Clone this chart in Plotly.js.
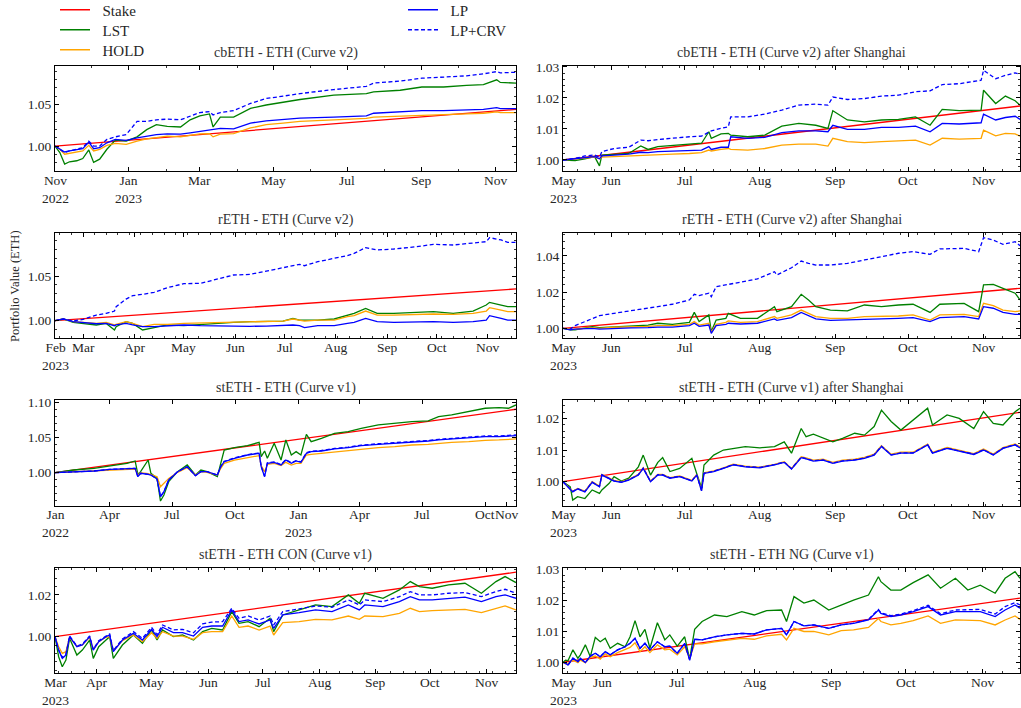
<!DOCTYPE html>
<html><head><meta charset="utf-8">
<script src="https://cdn.plot.ly/plotly-3.0.1.min.js"></script>
<style>html,body{margin:0;padding:0;background:#fff}#chart{width:1021px;height:708px}</style>
</head><body><div id="chart"></div>
<script>
// ---------- DATA ----------
const seriesNames = ['Stake','LST','HOLD','LP','LP+CRV'];
const panelTitles = ['cbETH - ETH (Curve v2)','cbETH - ETH (Curve v2) after Shanghai','rETH - ETH (Curve v2)','rETH - ETH (Curve v2) after Shanghai','stETH - ETH (Curve v1)','stETH - ETH (Curve v1) after Shanghai','stETH - ETH CON (Curve v1)','stETH - ETH NG (Curve v1)'];
const yAxisTitle = 'Portfolio Value (ETH)';

// Panel 1: cbETH - ETH (Curve v2)
const p1Dates = ['2022-11-01','2022-11-05','2022-11-09','2022-11-13','2022-11-19','2022-11-24','2022-11-29','2022-12-03','2022-12-08','2022-12-14','2022-12-21','2022-12-30','2023-01-08','2023-01-16','2023-01-24','2023-02-02','2023-02-13','2023-02-21','2023-03-01','2023-03-09','2023-03-12','2023-03-18','2023-03-29','2023-04-12','2023-04-25','2023-05-09','2023-05-23','2023-06-20','2023-07-17','2023-07-23','2023-08-14','2023-09-01','2023-09-19','2023-10-08','2023-10-22','2023-11-02','2023-11-05','2023-11-18'];
const p1LST = [1.0000,0.9921,0.9783,0.9811,0.9823,0.9850,0.9953,0.9803,0.9842,0.9961,1.0071,1.0059,1.0110,1.0197,1.0256,1.0236,1.0229,1.0315,1.0362,1.0386,1.0229,1.0347,1.0347,1.0453,1.0493,1.0528,1.0559,1.0611,1.0630,1.0650,1.0670,1.0709,1.0709,1.0729,1.0737,1.0796,1.0764,1.0756];
const p1LPCRV = [1.0000,0.9961,0.9921,0.9941,0.9961,0.9980,1.0059,1.0000,1.0000,1.0079,1.0110,1.0138,1.0296,1.0296,1.0315,1.0323,1.0315,1.0362,1.0402,1.0414,1.0374,1.0402,1.0426,1.0512,1.0571,1.0599,1.0630,1.0678,1.0717,1.0756,1.0780,1.0815,1.0827,1.0843,1.0867,1.0894,1.0879,1.0886];
const p1LP = [1.0000,0.9968,0.9929,0.9941,0.9953,0.9968,1.0047,0.9968,0.9980,1.0039,1.0079,1.0067,1.0098,1.0118,1.0138,1.0146,1.0142,1.0158,1.0177,1.0189,1.0205,1.0213,1.0205,1.0276,1.0303,1.0315,1.0335,1.0347,1.0362,1.0394,1.0410,1.0426,1.0426,1.0433,1.0441,1.0461,1.0449,1.0449];
const p1HOLD = [1.0000,0.9961,0.9902,0.9913,0.9921,0.9941,1.0008,0.9941,0.9961,1.0008,1.0032,1.0020,1.0059,1.0087,1.0102,1.0118,1.0110,1.0126,1.0146,1.0150,1.0110,1.0142,1.0150,1.0217,1.0256,1.0276,1.0296,1.0315,1.0331,1.0347,1.0362,1.0374,1.0378,1.0386,1.0394,1.0410,1.0402,1.0402];
const p1Stake = [1.0000,1.0440];

// Panel 2: cbETH - ETH (Curve v2) after Shanghai
const p2Dates = ['2023-05-12','2023-05-17','2023-05-21','2023-05-25','2023-05-27','2023-05-28','2023-06-02','2023-06-08','2023-06-13','2023-06-16','2023-06-20','2023-06-26','2023-07-03','2023-07-08','2023-07-11','2023-07-12','2023-07-16','2023-07-19','2023-07-20','2023-07-27','2023-08-03','2023-08-10','2023-08-17','2023-08-24','2023-08-29','2023-08-31','2023-09-06','2023-09-13','2023-09-20','2023-09-27','2023-10-04','2023-10-10','2023-10-15','2023-10-22','2023-10-31','2023-11-01','2023-11-06','2023-11-10','2023-11-14','2023-11-16'];
const p2LPCRV = [1.0000,1.0005,1.0013,1.0016,1.0009,1.0027,1.0037,1.0041,1.0064,1.0062,1.0066,1.0071,1.0075,1.0077,1.0091,1.0094,1.0102,1.0107,1.0139,1.0139,1.0148,1.0161,1.0177,1.0180,1.0177,1.0203,1.0195,1.0198,1.0206,1.0209,1.0220,1.0223,1.0243,1.0246,1.0257,1.0289,1.0262,1.0273,1.0281,1.0276];
const p2LST = [1.0000,0.9998,1.0004,1.0011,0.9981,1.0016,1.0018,1.0021,1.0045,1.0034,1.0043,1.0047,1.0051,1.0054,1.0091,1.0070,1.0084,1.0086,1.0080,1.0075,1.0080,1.0109,1.0118,1.0112,1.0102,1.0159,1.0129,1.0123,1.0129,1.0131,1.0139,1.0112,1.0163,1.0159,1.0161,1.0225,1.0182,1.0206,1.0191,1.0177];
const p2LP = [1.0000,1.0004,1.0009,1.0011,1.0004,1.0013,1.0016,1.0019,1.0025,1.0024,1.0027,1.0028,1.0030,1.0032,1.0043,1.0034,1.0041,1.0041,1.0075,1.0070,1.0073,1.0088,1.0094,1.0094,1.0091,1.0112,1.0099,1.0099,1.0105,1.0105,1.0109,1.0091,1.0118,1.0116,1.0120,1.0148,1.0129,1.0137,1.0141,1.0131];
const p2HOLD = [1.0000,1.0002,1.0006,1.0009,1.0004,1.0009,1.0011,1.0013,1.0016,1.0016,1.0018,1.0019,1.0021,1.0024,1.0032,1.0029,1.0034,1.0037,1.0034,1.0032,1.0037,1.0048,1.0051,1.0051,1.0045,1.0070,1.0059,1.0056,1.0059,1.0061,1.0064,1.0048,1.0070,1.0067,1.0070,1.0096,1.0078,1.0086,1.0084,1.0077];
const p2Stake = [1.0000,1.0174];

// Panel 3: rETH - ETH (Curve v2)
const p3Dates = ['2023-02-12','2023-02-17','2023-02-23','2023-03-01','2023-03-09','2023-03-15','2023-03-20','2023-03-21','2023-03-27','2023-03-31','2023-04-06','2023-04-13','2023-04-21','2023-05-01','2023-05-11','2023-05-21','2023-05-31','2023-06-10','2023-06-20','2023-06-30','2023-07-06','2023-07-10','2023-07-13','2023-07-21','2023-07-31','2023-08-08','2023-08-12','2023-08-19','2023-08-26','2023-09-05','2023-09-19','2023-09-29','2023-10-11','2023-10-23','2023-10-31','2023-11-02','2023-11-09','2023-11-13','2023-11-18'];
const p3LPCRV = [1.0000,1.0019,0.9996,1.0015,1.0063,1.0082,1.0108,1.0157,1.0242,1.0280,1.0295,1.0317,1.0369,1.0414,1.0418,1.0466,1.0511,1.0518,1.0556,1.0593,1.0623,1.0630,1.0615,1.0660,1.0698,1.0727,1.0753,1.0817,1.0791,1.0802,1.0828,1.0854,1.0847,1.0865,1.0884,1.0929,1.0903,1.0877,1.0877];
const p3LST = [1.0000,1.0019,0.9981,0.9970,0.9952,0.9970,0.9896,0.9933,0.9989,0.9970,0.9896,0.9922,0.9952,0.9944,0.9959,0.9970,0.9981,0.9989,0.9989,0.9996,1.0026,1.0007,1.0007,1.0007,1.0019,1.0063,1.0082,1.0138,1.0082,1.0082,1.0093,1.0101,1.0082,1.0108,1.0175,1.0205,1.0175,1.0157,1.0157];
const p3HOLD = [1.0000,1.0019,0.9989,0.9981,0.9970,0.9981,0.9952,0.9959,0.9989,0.9970,0.9933,0.9959,0.9959,0.9970,0.9974,0.9981,0.9989,0.9989,0.9993,0.9996,1.0019,1.0004,0.9996,1.0007,1.0007,1.0045,1.0056,1.0108,1.0063,1.0063,1.0071,1.0075,1.0071,1.0082,1.0108,1.0145,1.0119,1.0101,1.0101];
const p3LP = [1.0000,1.0019,0.9989,0.9981,0.9966,0.9970,0.9944,0.9952,0.9970,0.9952,0.9933,0.9933,0.9944,0.9952,0.9944,0.9940,0.9937,0.9937,0.9940,0.9944,0.9952,0.9944,0.9922,0.9944,0.9944,0.9970,0.9981,1.0026,0.9989,0.9981,0.9989,0.9989,0.9981,0.9989,1.0007,1.0056,1.0026,1.0007,1.0007];
const p3Stake = [1.0000,1.0355];

// Panel 4: rETH - ETH (Curve v2) after Shanghai
const p4Dates = ['2023-05-12','2023-05-15','2023-05-17','2023-05-24','2023-05-27','2023-06-02','2023-06-09','2023-06-16','2023-06-20','2023-06-26','2023-07-03','2023-07-05','2023-07-07','2023-07-11','2023-07-12','2023-07-14','2023-07-18','2023-07-19','2023-07-24','2023-07-31','2023-08-07','2023-08-08','2023-08-14','2023-08-18','2023-08-21','2023-08-24','2023-08-30','2023-09-06','2023-09-13','2023-09-20','2023-09-27','2023-10-03','2023-10-10','2023-10-14','2023-10-24','2023-10-30','2023-11-01','2023-11-05','2023-11-09','2023-11-14','2023-11-16'];
const p4LPCRV = [1.0000,0.9996,1.0015,1.0055,1.0070,1.0083,1.0096,1.0111,1.0120,1.0133,1.0157,1.0188,1.0181,1.0194,1.0175,1.0230,1.0240,1.0243,1.0254,1.0273,1.0313,1.0295,1.0335,1.0372,1.0359,1.0350,1.0350,1.0359,1.0378,1.0396,1.0415,1.0424,1.0409,1.0439,1.0442,1.0424,1.0501,1.0488,1.0464,1.0479,1.0457];
const p4LST = [1.0000,0.9991,0.9991,1.0009,1.0004,1.0009,1.0015,1.0018,1.0028,1.0022,1.0033,1.0088,1.0037,1.0074,0.9982,1.0046,1.0055,1.0083,1.0055,1.0055,1.0120,1.0092,1.0120,1.0188,1.0157,1.0120,1.0101,1.0096,1.0129,1.0120,1.0129,1.0133,1.0088,1.0133,1.0138,1.0092,1.0240,1.0243,1.0221,1.0194,1.0157];
const p4HOLD = [1.0000,0.9996,0.9996,1.0004,1.0000,1.0006,1.0007,1.0011,1.0015,1.0015,1.0022,1.0037,1.0018,1.0028,0.9978,1.0022,1.0033,1.0041,1.0033,1.0037,1.0065,1.0055,1.0074,1.0101,1.0083,1.0065,1.0055,1.0055,1.0065,1.0065,1.0068,1.0074,1.0046,1.0074,1.0077,1.0065,1.0138,1.0125,1.0101,1.0092,1.0096];
const p4LP = [1.0000,0.9991,0.9996,1.0000,0.9996,1.0000,1.0002,1.0004,1.0007,1.0007,1.0015,1.0028,1.0011,1.0018,0.9972,1.0015,1.0022,1.0028,1.0024,1.0028,1.0052,1.0044,1.0059,1.0088,1.0070,1.0052,1.0044,1.0046,1.0052,1.0052,1.0055,1.0059,1.0037,1.0059,1.0065,1.0052,1.0120,1.0111,1.0088,1.0077,1.0077];
const p4Stake = [1.0000,1.0221];

// Panel 5: stETH - ETH (Curve v1)
const p5Dates = ['2022-01-11','2022-02-07','2022-03-09','2022-04-01','2022-04-26','2022-05-08','2022-05-12','2022-05-16','2022-05-27','2022-05-31','2022-06-09','2022-06-14','2022-06-19','2022-06-26','2022-07-09','2022-07-23','2022-08-04','2022-08-12','2022-08-21','2022-09-05','2022-09-10','2022-09-15','2022-09-30','2022-10-19','2022-11-05','2022-11-08','2022-11-13','2022-11-17','2022-11-27','2022-12-07','2022-12-14','2022-12-22','2022-12-29','2023-01-05','2023-01-13','2023-01-20','2023-02-04','2023-02-23','2023-03-15','2023-04-03','2023-04-28','2023-05-22','2023-06-16','2023-07-10','2023-07-25','2023-08-13','2023-09-07','2023-10-01','2023-10-21','2023-11-04','2023-11-15'];
const p5LST = [1.0000,1.0038,1.0062,1.0100,1.0133,1.0166,0.9976,1.0014,1.0180,0.9991,0.9919,0.9597,0.9682,0.9872,1.0014,1.0109,0.9967,1.0038,1.0014,0.9943,1.0133,1.0322,1.0356,1.0384,1.0431,1.0228,1.0308,1.0204,1.0417,1.0180,1.0465,1.0251,1.0299,1.0251,1.0545,1.0441,1.0488,1.0559,1.0583,1.0630,1.0678,1.0702,1.0725,1.0735,1.0796,1.0820,1.0867,1.0915,1.0924,1.0915,1.0962];
const p5LP = [1.0000,1.0014,1.0024,1.0047,1.0052,1.0062,0.9943,0.9991,0.9976,0.9967,0.9910,0.9659,0.9730,0.9896,1.0014,1.0085,0.9957,1.0014,1.0014,0.9967,1.0085,1.0156,1.0204,1.0251,1.0275,1.0085,0.9943,1.0133,1.0147,1.0109,1.0180,1.0133,1.0166,1.0147,1.0275,1.0299,1.0308,1.0337,1.0356,1.0384,1.0403,1.0417,1.0441,1.0450,1.0465,1.0479,1.0488,1.0512,1.0512,1.0521,1.0526];
const p5LPCRV = [1.0000,1.0014,1.0024,1.0047,1.0052,1.0062,0.9943,0.9991,0.9976,0.9967,0.9910,0.9659,0.9730,0.9896,1.0014,1.0085,0.9957,1.0014,1.0014,0.9967,1.0090,1.0160,1.0210,1.0256,1.0280,1.0090,0.9950,1.0140,1.0152,1.0115,1.0186,1.0140,1.0172,1.0154,1.0282,1.0306,1.0315,1.0344,1.0363,1.0391,1.0411,1.0425,1.0449,1.0458,1.0474,1.0488,1.0497,1.0521,1.0522,1.0530,1.0536];
const p5HOLD = [1.0000,1.0014,1.0024,1.0043,1.0047,1.0052,0.9967,1.0000,0.9986,0.9976,0.9943,0.9801,0.9848,0.9919,1.0005,1.0071,0.9967,1.0014,1.0005,0.9967,1.0062,1.0133,1.0180,1.0213,1.0242,1.0100,1.0014,1.0119,1.0133,1.0100,1.0147,1.0109,1.0133,1.0133,1.0251,1.0261,1.0275,1.0299,1.0318,1.0337,1.0356,1.0370,1.0393,1.0403,1.0417,1.0431,1.0441,1.0460,1.0465,1.0474,1.0479];
const p5Stake = [1.0000,1.0901];

// Panel 6: stETH - ETH (Curve v1) after Shanghai
const p6Dates = ['2023-05-12','2023-05-15','2023-05-16','2023-05-18','2023-05-21','2023-05-24','2023-05-27','2023-05-28','2023-05-31','2023-06-02','2023-06-05','2023-06-08','2023-06-12','2023-06-14','2023-06-17','2023-06-20','2023-06-22','2023-06-25','2023-06-29','2023-07-04','2023-07-06','2023-07-08','2023-07-09','2023-07-13','2023-07-17','2023-07-21','2023-07-26','2023-08-01','2023-08-07','2023-08-11','2023-08-14','2023-08-18','2023-08-20','2023-08-23','2023-08-27','2023-08-31','2023-09-04','2023-09-09','2023-09-13','2023-09-17','2023-09-20','2023-09-24','2023-09-28','2023-10-03','2023-10-09','2023-10-11','2023-10-17','2023-10-22','2023-10-28','2023-11-01','2023-11-05','2023-11-09','2023-11-14','2023-11-16'];
const p6LST = [1.0000,0.9984,0.9942,0.9953,0.9947,0.9974,0.9963,0.9974,0.9995,1.0016,1.0002,1.0011,1.0047,1.0084,1.0021,1.0061,1.0076,1.0032,1.0042,1.0074,1.0026,0.9981,1.0053,1.0084,1.0100,1.0105,1.0111,1.0107,1.0111,1.0126,1.0090,1.0168,1.0142,1.0150,1.0137,1.0126,1.0137,1.0153,1.0147,1.0174,1.0226,1.0190,1.0163,1.0195,1.0232,1.0179,1.0211,1.0200,1.0168,1.0221,1.0184,1.0179,1.0221,1.0232];
const p6LP = [1.0000,0.9974,0.9968,0.9977,0.9968,0.9998,0.9984,1.0021,1.0011,1.0002,0.9998,1.0005,1.0021,1.0042,1.0000,1.0021,1.0021,1.0011,1.0016,1.0002,1.0021,0.9971,1.0026,1.0032,1.0042,1.0053,1.0047,1.0044,1.0053,1.0061,1.0040,1.0076,1.0072,1.0065,1.0068,1.0058,1.0065,1.0068,1.0074,1.0084,1.0111,1.0084,1.0090,1.0090,1.0116,1.0090,1.0105,1.0097,1.0086,1.0100,1.0084,1.0105,1.0116,1.0107];
const p6HOLD = [1.0000,0.9976,0.9970,0.9979,0.9970,1.0000,0.9986,1.0023,1.0013,1.0004,1.0000,1.0007,1.0023,1.0044,1.0002,1.0023,1.0023,1.0013,1.0018,1.0004,1.0023,0.9973,1.0028,1.0034,1.0044,1.0055,1.0049,1.0046,1.0055,1.0063,1.0042,1.0079,1.0075,1.0068,1.0071,1.0061,1.0068,1.0071,1.0077,1.0087,1.0114,1.0087,1.0093,1.0093,1.0119,1.0093,1.0108,1.0100,1.0089,1.0103,1.0087,1.0108,1.0119,1.0110];
const p6LPCRV = [1.0000,0.9975,0.9969,0.9978,0.9969,0.9999,0.9985,1.0022,1.0012,1.0003,0.9999,1.0006,1.0022,1.0043,1.0001,1.0022,1.0022,1.0012,1.0017,1.0003,1.0022,0.9972,1.0027,1.0033,1.0043,1.0054,1.0048,1.0045,1.0054,1.0062,1.0041,1.0077,1.0073,1.0066,1.0069,1.0059,1.0066,1.0069,1.0075,1.0085,1.0112,1.0085,1.0091,1.0091,1.0117,1.0091,1.0106,1.0098,1.0087,1.0101,1.0085,1.0106,1.0117,1.0108];
const p6Stake = [1.0000,1.0219];

// Panel 7: stETH - ETH CON (Curve v1)
const p7Dates = ['2023-03-09','2023-03-11','2023-03-13','2023-03-15','2023-03-17','2023-03-21','2023-03-24','2023-03-28','2023-03-30','2023-04-02','2023-04-06','2023-04-08','2023-04-10','2023-04-15','2023-04-21','2023-04-26','2023-05-01','2023-05-04','2023-05-07','2023-05-13','2023-05-18','2023-05-24','2023-05-29','2023-06-03','2023-06-09','2023-06-14','2023-06-18','2023-06-23','2023-06-29','2023-07-05','2023-07-07','2023-07-12','2023-07-21','2023-07-30','2023-08-08','2023-08-17','2023-08-23','2023-08-26','2023-09-05','2023-09-14','2023-09-20','2023-09-25','2023-10-02','2023-10-11','2023-10-20','2023-10-29','2023-11-06','2023-11-11','2023-11-17'];
const p7LST = [1.0000,0.9904,0.9856,0.9888,0.9992,0.9912,0.9936,0.9984,0.9896,0.9952,0.9984,1.0000,0.9896,0.9960,1.0008,0.9968,1.0032,0.9984,1.0032,1.0000,1.0008,0.9984,1.0024,1.0040,1.0032,1.0120,1.0064,1.0072,1.0048,1.0088,1.0024,1.0104,1.0128,1.0152,1.0144,1.0200,1.0160,1.0208,1.0184,1.0224,1.0264,1.0240,1.0232,1.0248,1.0256,1.0208,1.0264,1.0288,1.0259];
const p7LP = [1.0000,0.9936,0.9896,0.9912,1.0000,0.9952,0.9960,1.0000,0.9936,0.9976,1.0000,1.0008,0.9928,0.9984,1.0016,0.9984,1.0035,1.0000,1.0045,1.0019,1.0019,1.0003,1.0045,1.0051,1.0051,1.0128,1.0072,1.0080,1.0061,1.0080,1.0040,1.0104,1.0115,1.0128,1.0120,1.0152,1.0128,1.0152,1.0144,1.0168,1.0192,1.0176,1.0176,1.0184,1.0189,1.0168,1.0192,1.0200,1.0184];
const p7LPCRV = [1.0000,0.9936,0.9901,0.9917,1.0003,0.9955,0.9965,1.0003,0.9939,0.9981,1.0003,1.0013,0.9933,0.9989,1.0024,0.9992,1.0045,1.0010,1.0056,1.0032,1.0035,1.0019,1.0061,1.0070,1.0072,1.0136,1.0088,1.0099,1.0080,1.0099,1.0056,1.0120,1.0133,1.0147,1.0141,1.0176,1.0152,1.0176,1.0168,1.0192,1.0216,1.0200,1.0200,1.0208,1.0211,1.0192,1.0216,1.0227,1.0208];
const p7HOLD = [1.0000,0.9952,0.9920,0.9928,0.9997,0.9955,0.9960,0.9997,0.9939,0.9976,0.9997,1.0000,0.9933,0.9981,1.0008,0.9976,1.0019,0.9992,1.0024,1.0003,1.0003,0.9987,1.0019,1.0024,1.0024,1.0099,1.0045,1.0051,1.0032,1.0051,1.0008,1.0067,1.0072,1.0083,1.0080,1.0099,1.0083,1.0099,1.0096,1.0112,1.0136,1.0120,1.0125,1.0128,1.0131,1.0115,1.0136,1.0147,1.0128];
const p7Stake = [1.0000,1.0309];

// Panel 8: stETH - ETH NG (Curve v1)
const p8Dates = ['2023-05-16','2023-05-17','2023-05-18','2023-05-20','2023-05-22','2023-05-23','2023-05-25','2023-05-27','2023-05-29','2023-05-31','2023-06-02','2023-06-04','2023-06-07','2023-06-10','2023-06-12','2023-06-14','2023-06-16','2023-06-18','2023-06-20','2023-06-23','2023-06-26','2023-06-28','2023-07-01','2023-07-04','2023-07-06','2023-07-08','2023-07-11','2023-07-16','2023-07-21','2023-07-27','2023-08-01','2023-08-06','2023-08-12','2023-08-14','2023-08-17','2023-08-21','2023-08-25','2023-08-31','2023-09-05','2023-09-10','2023-09-16','2023-09-20','2023-09-21','2023-09-25','2023-09-29','2023-10-04','2023-10-10','2023-10-15','2023-10-21','2023-10-26','2023-10-31','2023-11-06','2023-11-10','2023-11-14','2023-11-16'];
const p8LST = [1.0000,1.0007,1.0005,1.0040,1.0013,1.0024,1.0056,1.0018,1.0080,1.0066,1.0077,1.0045,1.0061,1.0050,1.0082,1.0134,1.0082,1.0106,1.0045,1.0127,1.0072,1.0088,1.0052,1.0082,1.0010,1.0106,1.0131,1.0152,1.0147,1.0163,1.0152,1.0166,1.0168,1.0131,1.0211,1.0190,1.0200,1.0168,1.0184,1.0200,1.0216,1.0275,1.0259,1.0232,1.0232,1.0256,1.0281,1.0238,1.0270,1.0232,1.0248,1.0222,1.0270,1.0291,1.0270];
const p8LP = [1.0000,0.9997,0.9991,1.0013,1.0002,1.0013,0.9999,1.0020,1.0029,1.0018,1.0034,1.0024,1.0040,1.0050,1.0061,1.0077,1.0045,1.0061,1.0040,1.0066,1.0050,1.0052,1.0029,1.0061,1.0007,1.0074,1.0072,1.0082,1.0088,1.0093,1.0091,1.0104,1.0109,1.0088,1.0131,1.0117,1.0120,1.0109,1.0120,1.0125,1.0136,1.0168,1.0157,1.0147,1.0152,1.0163,1.0179,1.0152,1.0163,1.0163,1.0163,1.0147,1.0168,1.0184,1.0174];
const p8LPCRV = [1.0000,0.9997,0.9991,1.0013,1.0002,1.0013,0.9999,1.0020,1.0029,1.0018,1.0034,1.0024,1.0040,1.0050,1.0061,1.0077,1.0045,1.0061,1.0040,1.0066,1.0050,1.0052,1.0029,1.0061,1.0007,1.0074,1.0072,1.0082,1.0088,1.0093,1.0091,1.0104,1.0109,1.0088,1.0131,1.0117,1.0120,1.0109,1.0120,1.0126,1.0138,1.0170,1.0159,1.0150,1.0155,1.0166,1.0183,1.0156,1.0168,1.0169,1.0170,1.0155,1.0179,1.0192,1.0184];
const p8HOLD = [1.0000,0.9995,0.9995,1.0007,0.9999,1.0007,0.9999,1.0016,1.0020,1.0010,1.0027,1.0018,1.0031,1.0040,1.0048,1.0063,1.0034,1.0050,1.0031,1.0056,1.0040,1.0042,1.0024,1.0050,1.0013,1.0059,1.0059,1.0066,1.0072,1.0077,1.0074,1.0085,1.0090,1.0072,1.0109,1.0099,1.0099,1.0088,1.0102,1.0104,1.0112,1.0141,1.0131,1.0120,1.0125,1.0134,1.0149,1.0125,1.0136,1.0134,1.0134,1.0120,1.0136,1.0149,1.0138];
const p8Stake = [1.0000,1.0206];

// Tick positions and labels
const tickMay12 = ['2023-05-12','2023-06-01','2023-07-01','2023-08-01','2023-09-01','2023-10-01','2023-11-01'];
const tickMay16 = ['2023-05-16','2023-06-01','2023-07-01','2023-08-01','2023-09-01','2023-10-01','2023-11-01'];
const textMayNov = ['May','Jun','Jul','Aug','Sep','Oct','Nov'];
const yearMayNov = ['2023','','','','','',''];
const tickP1 = ['2022-11-01','2023-01-01','2023-03-01','2023-05-01','2023-07-01','2023-09-01','2023-11-01'];
const textP1 = ['Nov','Jan','Mar','May','Jul','Sep','Nov'];
const yearP1 = ['2022','2023','','','','',''];
const tickP3 = ['2023-02-12','2023-03-01','2023-04-01','2023-05-01','2023-06-01','2023-07-01','2023-08-01','2023-09-01','2023-10-01','2023-11-01'];
const textP3 = ['Feb','Mar','Apr','May','Jun','Jul','Aug','Sep','Oct','Nov'];
const yearP3 = ['2023','','','','','','','','',''];
const tickP5 = ['2022-01-11','2022-04-01','2022-07-01','2022-10-01','2023-01-01','2023-04-01','2023-07-01','2023-10-01','2023-11-01'];
const textP5 = ['Jan','Apr','Jul','Oct','Jan','Apr','Jul','Oct','Nov'];
const yearP5 = ['2022','','','','2023','','','',''];
const tickP7 = ['2023-03-09','2023-04-01','2023-05-01','2023-06-01','2023-07-01','2023-08-01','2023-09-01','2023-10-01','2023-11-01'];
const textP7 = ['Mar','Apr','May','Jun','Jul','Aug','Sep','Oct','Nov'];
const yearP7 = ['2023','','','','','','','',''];

// ---------- PLOT ----------
const FONT = '"Liberation Serif", "Times New Roman", serif';
const TXT = '#262626';
const DAY = 86400000;
const W = 1021, H = 708;
const colL = [55/W, 516/W], colR = [563/W, 1020/W];
const rowPx = [[171,65.7],[338.3,233],[505.7,400.3],[673.3,568]];
const rows = rowPx.map(r => [1 - r[0]/H, 1 - r[1]/H]);

const panels = [
  {d:p1Dates, lst:p1LST, hold:p1HOLD, lp:p1LP, crv:p1LPCRV, stake:p1Stake, col:colL, row:0, xr:['2022-11-01','2023-11-18'], yr:[0.970,1.0965], tv:tickP1, tt:textP1, ty:yearP1, ydt:0.05, ymin:0.01, xminor:{dtick:'M1', tick0:'2022-11-01'}},
  {d:p2Dates, lst:p2LST, hold:p2HOLD, lp:p2LP, crv:p2LPCRV, stake:p2Stake, col:colR, row:0, xr:['2023-05-12','2023-11-16'], yr:[0.99645,1.0304], tv:tickMay12, tt:textMayNov, ty:yearMayNov, ydt:0.01, ymin:0.002, xminor:{dtick:7*DAY, tick0:'2023-06-01'}},
  {d:p3Dates, lst:p3LST, hold:p3HOLD, lp:p3LP, crv:p3LPCRV, stake:p3Stake, col:colL, row:1, xr:['2023-02-12','2023-11-18'], yr:[0.9803,1.0981], tv:tickP3, tt:textP3, ty:yearP3, ydt:0.05, ymin:0.01, xminor:{dtick:7*DAY, tick0:'2023-03-01'}},
  {d:p4Dates, lst:p4LST, hold:p4HOLD, lp:p4LP, crv:p4LPCRV, stake:p4Stake, col:colR, row:1, xr:['2023-05-12','2023-11-16'], yr:[0.99448,1.0527], tv:tickMay12, tt:textMayNov, ty:yearMayNov, ydt:0.02, ymin:0.004, xminor:{dtick:7*DAY, tick0:'2023-06-01'}},
  {d:p5Dates, lst:p5LST, hold:p5HOLD, lp:p5LP, crv:p5LPCRV, stake:p5Stake, col:colL, row:2, xr:['2022-01-11','2023-11-15'], yr:[0.9531,1.1028], tv:tickP5, tt:textP5, ty:yearP5, ydt:0.05, ymin:0.01, xminor:null},
  {d:p6Dates, lst:p6LST, hold:p6HOLD, lp:p6LP, crv:p6LPCRV, stake:p6Stake, col:colR, row:2, xr:['2023-05-12','2023-11-16'], yr:[0.99243,1.0257], tv:tickMay12, tt:textMayNov, ty:yearMayNov, ydt:0.01, ymin:0.002, xminor:{dtick:7*DAY, tick0:'2023-06-01'}},
  {d:p7Dates, lst:p7LST, hold:p7HOLD, lp:p7LP, crv:p7LPCRV, stake:p7Stake, col:colL, row:3, xr:['2023-03-09','2023-11-17'], yr:[0.98245,1.0329], tv:tickP7, tt:textP7, ty:yearP7, ydt:0.02, ymin:0.004, xminor:{dtick:7*DAY, tick0:'2023-04-01'}},
  {d:p8Dates, lst:p8LST, hold:p8HOLD, lp:p8LP, crv:p8LPCRV, stake:p8Stake, col:colR, row:3, xr:['2023-05-16','2023-11-16'], yr:[0.99646,1.0303], tv:tickMay16, tt:textMayNov, ty:yearMayNov, ydt:0.01, ymin:0.002, xminor:{dtick:7*DAY, tick0:'2023-06-01'}}
];

const traces = [];
const layout = {
  width: W, height: H, margin:{l:0,r:0,t:0,b:0,autoexpand:false},
  paper_bgcolor:'#fff', plot_bgcolor:'#fff',
  font:{family:FONT, size:13, color:TXT},
  showlegend:true,
  annotations:[]
};

// one single-entry legend per series, placed like the reference's two-column legend
const legendSlots = {Stake:['legend',55,10], LST:['legend2',55,30], HOLD:['legend3',55,50], LP:['legend4',403,10], 'LP+CRV':['legend5',403,30]};
Object.keys(legendSlots).forEach(k => {
  const [lg, lx, ly] = legendSlots[k];
  layout[lg] = {x:lx/W, y:1 - ly/H, xanchor:'left', yanchor:'middle', bgcolor:'rgba(0,0,0,0)',
    font:{family:FONT, size:15, color:TXT}, itemwidth:30, borderwidth:0};
});

const colors = {Stake:'#ff0000', LST:'#008000', HOLD:'#ffa500', LP:'#0000ff', 'LP+CRV':'#0000ff'};
const titleY = [53, 220, 388, 555];

panels.forEach((p, i) => {
  const n = i + 1;
  const suf = (n === 1 ? '' : String(n));
  const xa = 'x' + suf, ya = 'y' + suf;
  const first = (i === 0);
  const span = [p.d[0], p.d[p.d.length - 1]];
  const defs = [
    {name:'Stake', x:span, y:p.stake, dash:'solid'},
    {name:'LST', x:p.d, y:p.lst, dash:'solid'},
    {name:'HOLD', x:p.d, y:p.hold, dash:'solid'},
    {name:'LP', x:p.d, y:p.lp, dash:'solid'},
    {name:'LP+CRV', x:p.d, y:p.crv, dash:'4px,2.5px'}
  ];
  defs.forEach(s => {
    traces.push({
      type:'scatter', mode:'lines', x:s.x, y:s.y, xaxis:xa, yaxis:ya,
      name:'\u2002' + s.name, legend:legendSlots[s.name][0], showlegend:first,
      line:{color:colors[s.name], width:1.3, dash:s.dash},
      hoverinfo:'skip'
    });
  });
  const xcfg = {
    domain:p.col, anchor:ya, type:'date', range:p.xr,
    tickmode:'array', tickvals:p.tv, showticklabels:false,
    ticks:'inside', ticklen:4, tickwidth:1, tickcolor:'#000',
    showline:true, linecolor:'#000', linewidth:1, mirror:'allticks',
    showgrid:false, zeroline:false
  };
  if (p.xminor) xcfg.minor = Object.assign({ticks:'inside', ticklen:2, tickwidth:0.8, tickcolor:'#000', showgrid:false}, p.xminor);
  layout['xaxis' + suf] = xcfg;
  layout['yaxis' + suf] = {
    domain:rows[p.row], anchor:xa, range:p.yr,
    tickmode:'linear', tick0:1.0, dtick:p.ydt, tickformat:'.2f',
    ticks:'inside', ticklen:4, tickwidth:1, tickcolor:'#000',
    showline:true, linecolor:'#000', linewidth:1, mirror:'allticks',
    showgrid:false, zeroline:false, tickfont:{family:FONT,size:13.5,color:TXT},
    minor:{ticks:'inside', ticklen:2, tickwidth:0.8, tickcolor:'#000', dtick:p.ymin, tick0:1.0, showgrid:false}
  };
  // x tick labels (month, plus year on a second line where the reference shows one)
  const bottom = rowPx[p.row][0];
  p.tv.forEach((v, j) => {
    const txt = p.ty[j] ? (p.tt[j] + '<br>' + p.ty[j]) : p.tt[j];
    layout.annotations.push({text:txt, xref:xa, yref:'paper', x:v, y:1 - (bottom + 0.5)/H,
      xanchor:'center', yanchor:'top', showarrow:false, borderpad:0,
      font:{family:FONT, size:13.5, color:TXT}});
  });
  layout.annotations.push({
    text:panelTitles[i], xref:'paper', yref:'paper',
    x:(p.col[0] + p.col[1]) / 2, y:1 - titleY[p.row]/H, xanchor:'center', yanchor:'middle',
    showarrow:false, font:{family:FONT, size:14, color:'#333'}
  });
});

layout.annotations.push({
  text:yAxisTitle, xref:'paper', yref:'paper', x:15/W, y:1 - 286/H,
  xanchor:'center', yanchor:'middle', textangle:-90, showarrow:false,
  font:{family:FONT, size:12.5, color:TXT}
});

Plotly.newPlot('chart', traces, layout, {staticPlot:true, displayModeBar:false});
</script>
</body></html>
